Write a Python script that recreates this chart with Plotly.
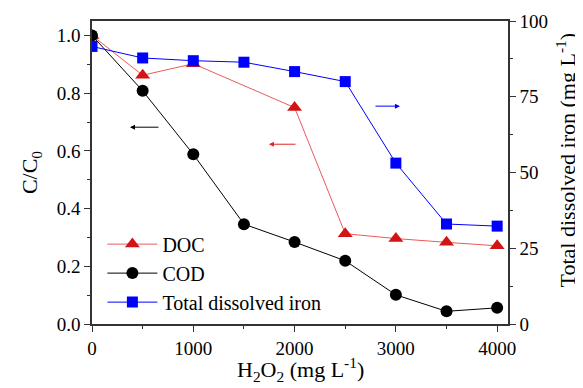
import plotly.graph_objects as go

h2o2 = [0, 500, 1000, 1500, 2000, 2500, 3000, 3500, 4000]
doc_x = [0, 500, 1000, 2000, 2500, 3000, 3500, 4000]
doc = [1.0, 0.862, 0.902, 0.75, 0.313, 0.296, 0.283, 0.271]
cod = [1.0, 0.808, 0.588, 0.346, 0.284, 0.219, 0.101, 0.044, 0.056]
iron = [91.6, 87.8, 86.9, 86.4, 83.3, 80.0, 53.1, 33.0, 32.3]

# arrows: (head_x, head_y, tail_x, tail_y, color) in data units of x / left y
arrows = [
    (375, 0.682, 671, 0.682, "black"),
    (1747, 0.623, 2024, 0.623, "rgb(220,40,40)"),
    (3040, 0.755, 2784, 0.755, "blue"),
]

RED = "rgb(210,20,20)"
FONT = "Times New Roman, Liberation Serif, DejaVu Serif, serif"

fig = go.Figure()
fig.add_trace(go.Scatter(x=doc_x, y=doc, name="DOC", mode="lines+markers",
                         line=dict(color="rgb(235,90,90)", width=1),
                         marker=dict(symbol="triangle-up", size=13, color=RED)))
fig.add_trace(go.Scatter(x=h2o2, y=cod, name="COD", mode="lines+markers",
                         line=dict(color="black", width=1),
                         marker=dict(symbol="circle", size=12, color="black")))
fig.add_trace(go.Scatter(x=h2o2, y=iron, name="Total dissolved iron", mode="lines+markers",
                         yaxis="y2",
                         line=dict(color="blue", width=1),
                         marker=dict(symbol="square", size=11, color="blue")))

for hx, hy, tx, ty, c in arrows:
    fig.add_annotation(x=hx, y=hy, ax=tx, ay=ty, xref="x", yref="y", axref="x", ayref="y",
                       showarrow=True, arrowhead=2, arrowsize=1, arrowwidth=1,
                       arrowcolor=c, text="")

# axis titles as annotations for exact placement
fig.add_annotation(text="C/C<sub>0</sub>", xref="paper", yref="paper", x=-0.186, y=0.5,
                   textangle=-90, showarrow=False, font=dict(family=FONT, size=22))
fig.add_annotation(text="Total dissolved iron (mg L<sup>-1</sup>)", xref="paper", yref="paper",
                   x=1.178, y=0.54, textangle=-90, showarrow=False,
                   font=dict(family=FONT, size=22))
fig.add_annotation(text="H<sub>2</sub>O<sub>2</sub> (mg L<sup>-1</sup>)", xref="paper",
                   yref="paper", x=0.5, y=-0.15, yanchor="middle", showarrow=False,
                   font=dict(family=FONT, size=22))

axis_common = dict(showline=True, linecolor="#333", linewidth=1.5, ticks="outside",
                   ticklen=6, tickwidth=1.2, tickcolor="#333", showgrid=False, zeroline=False,
                   automargin=False,
                   tickfont=dict(family=FONT, size=19, color="black"))

fig.update_layout(
    width=575, height=380,
    margin=dict(l=84, r=75, t=13, b=64),
    plot_bgcolor="white", paper_bgcolor="white",
    font=dict(family=FONT, size=19, color="black"),
    xaxis=dict(range=[0, 4107], dtick=1000, mirror=True,
               minor=dict(ticks="outside", dtick=500, ticklen=3, tickcolor="#333"),
               **axis_common),
    yaxis=dict(range=[0, 1.05], dtick=0.2, tickformat=".1f",
               minor=dict(ticks="outside", dtick=0.1, ticklen=3, tickcolor="#333"),
               **axis_common),
    yaxis2=dict(range=[0, 100], dtick=25, overlaying="y", side="right",
                minor=dict(ticks="outside", dtick=12.5, ticklen=3, tickcolor="#333"),
                **axis_common),
    showlegend=True,
    legend=dict(x=0.025, y=0.328, xanchor="left", yanchor="top", bgcolor="rgba(0,0,0,0)",
                font=dict(family=FONT, size=20), tracegroupgap=0, itemwidth=50),
)

fig.write_html("out.html")
